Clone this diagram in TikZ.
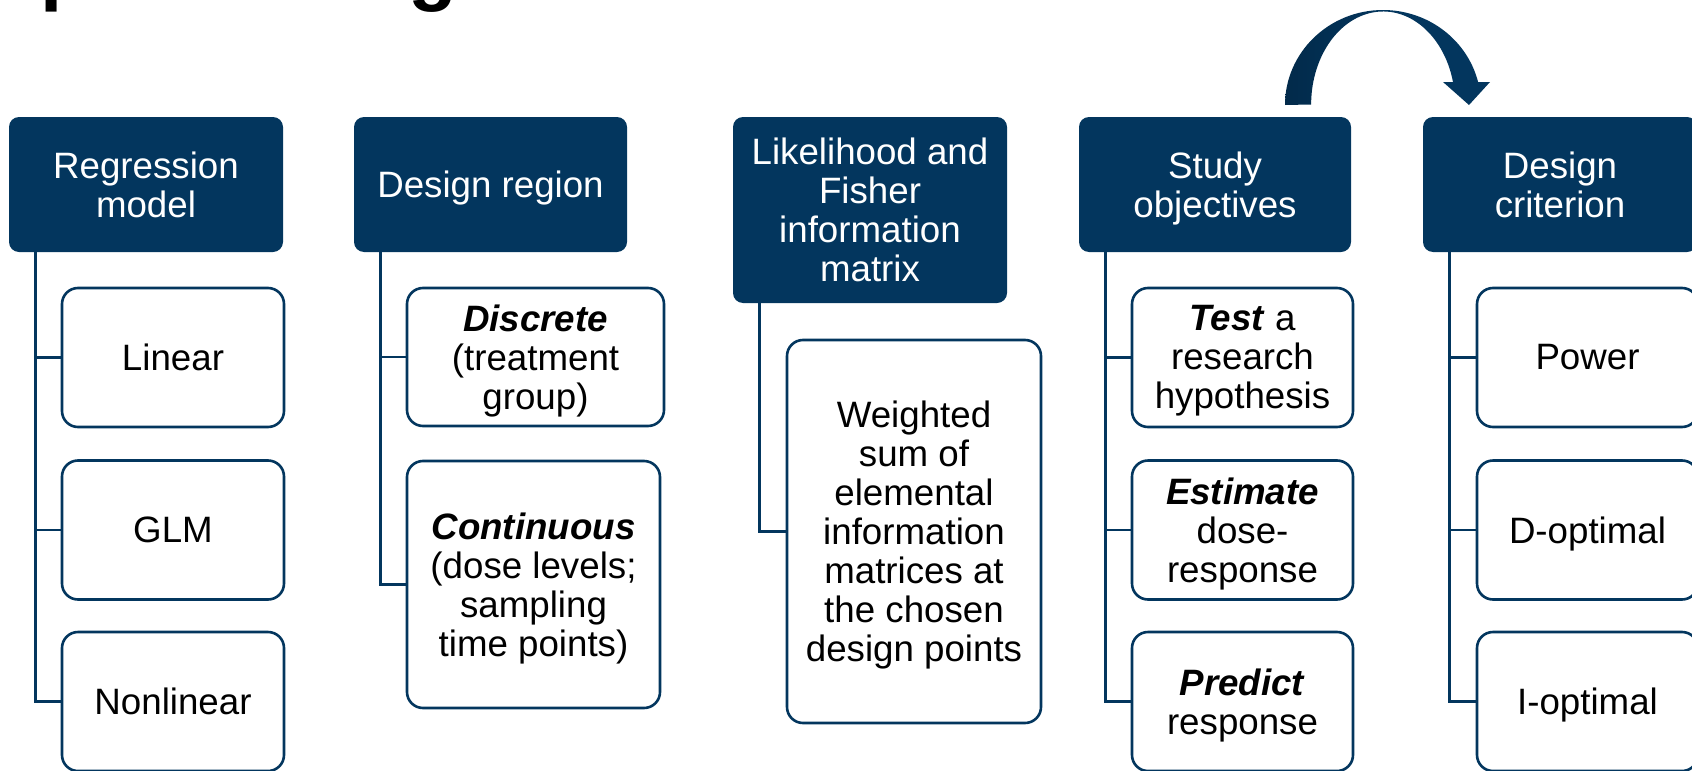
\documentclass[tikz,border=0pt]{standalone}
\usepackage{fontspec}
\setmainfont{Liberation Sans}
\usetikzlibrary{calc}
\definecolor{navy}{RGB}{3,54,94}
\definecolor{navydark}{RGB}{2,42,74}
\tikzset{
  txt/.style={align=center, inner sep=0pt, text depth=0.5pt, font=\fontsize{36.7}{39}\selectfont},
  head/.style={txt, fill=navy, rounded corners=10pt, text=white},
  leaf/.style={txt, draw=navy, line width=2.6pt, fill=white, rounded corners=16pt, text=black},
  conn/.style={draw=navy, line width=2.6pt},
  frag/.style={inner sep=0pt, anchor=base west, font=\fontsize{80}{80}\selectfont\bfseries},
}
\newcommand\kw[1]{\textbf{\textit{#1}}}
\begin{document}
\begin{tikzpicture}[x=1pt, y=-1pt]
  \useasboundingbox (0,0) rectangle (1692,771);
  \clip (0,0) rectangle (1692,771);

  % title descenders above the frame
  \node[frag] (tp) at (40,-5) {p};
  \node[frag] (tg) at (408,-5) {g};

  % headers
  \node[head, minimum width=274, minimum height=135] (h1) at (146,184.5) {Regression\\model};
  \node[head, minimum width=273, minimum height=135] (h2) at (490.5,184.5) {Design region};
  \node[head, minimum width=274, minimum height=186] (h3) at (870,210) {Likelihood and\\Fisher\\information\\matrix};
  \node[head, minimum width=272, minimum height=135] (h4) at (1215,184.5) {Study\\objectives};
  \node[head, minimum width=274, minimum height=135] (h5) at (1560,184.5) {Design\\criterion};

  % column 1
  \node[leaf, minimum width=222, minimum height=139] (a1) at (173,357.5) {Linear};
  \node[leaf, minimum width=222, minimum height=139] (a2) at (173,530) {GLM};
  \node[leaf, minimum width=222, minimum height=139] (a3) at (173,701.5) {Nonlinear};

  % column 2
  \node[leaf, minimum width=257, minimum height=138] (b1) at (535.5,357) {\kw{Discrete}\\(treatment\\group)};
  \node[leaf, minimum width=253, minimum height=247] (b2) at (533.5,584.5) {\kw{Continuous}\\(dose levels;\\sampling\\time points)};

  % column 3
  \node[leaf, minimum width=254, minimum height=383] (c1) at (914,531.5) {Weighted\\sum of\\elemental\\information\\matrices at\\the chosen\\design points};

  % column 4
  \node[leaf, minimum width=221, minimum height=139] (d1) at (1242.5,357.5) {\kw{Test} a\\research\\hypothesis};
  \node[leaf, minimum width=221, minimum height=139] (d2) at (1242.5,530) {\kw{Estimate}\\dose-\\response};
  \node[leaf, minimum width=221, minimum height=139] (d3) at (1242.5,701.5) {\kw{Predict}\\response};

  % column 5
  \node[leaf, minimum width=221, minimum height=139] (e1) at (1587.5,357.5) {Power};
  \node[leaf, minimum width=221, minimum height=139] (e2) at (1587.5,530) {D-optimal};
  \node[leaf, minimum width=221, minimum height=139] (e3) at (1587.5,701.5) {I-optimal};

  % tree connectors
  \foreach \h/\c in {h1/a1,h1/a2,h1/a3,h2/b1,h2/b2,h3/c1,h4/d1,h4/d2,h4/d3,h5/e1,h5/e2,h5/e3}
    \draw[conn] ($(\h.south west)+(26.5,0)$) |- (\c.west);

  % curved arrow from objectives to criterion: tapered band with a head
  \coordinate (as) at (1285,105);
  \coordinate (hl) at (1443,82);
  \coordinate (hr) at (1490,82);
  \coordinate (tip) at (1469,105);
  \coordinate (ai) at (1453,82);
  \shade[left color=navydark, right color=navy, middle color=navy]
    (as) arc[start angle=180, end angle=346, x radius=98, y radius=95]
    -- (hr) -- (tip) -- (hl) -- (ai)
    arc[start angle=346, end angle=180, x radius=72, y radius=93] -- cycle;
\end{tikzpicture}
\end{document}
